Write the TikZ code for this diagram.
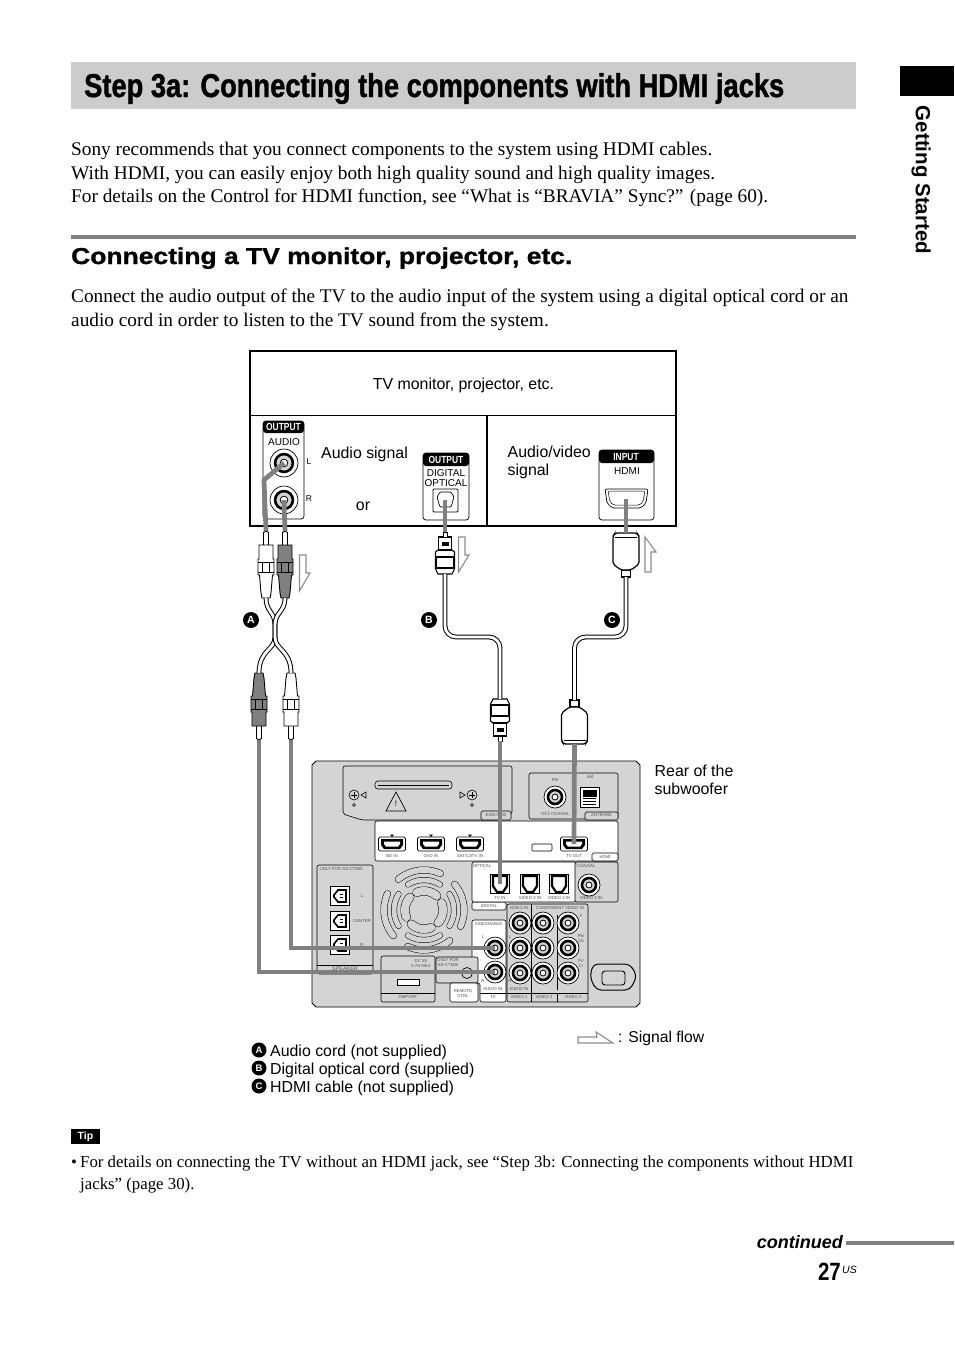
\documentclass[tikz,border=0pt]{standalone}
\usepackage{fontspec}
\setmainfont{Liberation Serif}
\setsansfont{Liberation Sans}
\newfontfamily\condfont[FakeStretch=.82]{Liberation Sans}
\newfontfamily\titlefont[FakeStretch=.827,FakeBold=1.2]{Liberation Sans}
\newfontfamily\widefont[FakeStretch=1.15,FakeBold=1.2]{Liberation Sans}
\usetikzlibrary{positioning,arrows.meta,calc}
\definecolor{band}{HTML}{CCCCCC}
\definecolor{rulegray}{HTML}{808080}
\definecolor{cable}{HTML}{808080}
\definecolor{subpanel}{HTML}{D4D4D4}
\definecolor{flow}{HTML}{8C8C8C}
\definecolor{tinyink}{HTML}{505050}
\newcommand{\fs}[1]{\fontsize{#1}{#1}\selectfont}
\newcommand{\fsl}[2]{\fontsize{#1}{#2}\selectfont}
\tikzset{
  bodytext/.style={anchor=north west,inner sep=0,align=left,font=\fsl{19.3}{23.5}\rmfamily},
  sanslabel/.style={inner sep=0,align=left,font=\fsl{15.9}{18}\sffamily},
  headlabel/.style={inner sep=0,text=white,font=\fs{10.3}\condfont\bfseries},
  panellabel/.style={inner sep=0,align=center,font=\fs{10}\sffamily},
  microtext/.style={inner sep=0,align=center,text=tinyink,font=\fsl{4.3}{5}\sffamily},
  tabbox/.style={draw,line width=.6,fill=#1,rounded corners=1.5},
  subbox/.style={draw,line width=.6,fill=subpanel,rounded corners=2},
  sigcable/.style={draw=cable,line width=4.7},
  wire/.style={draw=black,double=white,double distance=2.8,line width=1},
  flowarrow/.style={draw=flow,line width=1.1,fill=white},
  fanslot/.style={draw=black,double=subpanel,double distance=#1,line width=.5,line cap=round},
  badge/.style={circle,fill=black,text=white,inner sep=0,minimum size=#1,font=\fs{10.5}\sffamily\bfseries},
  pics/rcajack/.style={code={
    \coordinate (-c) at (0,0);
    \draw[fill=white,line width=.7] (0,0) circle[radius=11];
    \draw[line width=2.6,fill=subpanel] (0,0) circle[radius=7];
    \draw[line width=.8,fill=white] (0,0) circle[radius=3];}},
  pics/hdmiport/.style={code={
    \coordinate (-c) at (0,0);
    \draw[fill=white,rounded corners=1.5,line width=.7] (-13.5,-7) rectangle (13.5,7);
    \fill (-11,-5) -- (11,-5) -- (11,1) -- (8,5) -- (-8,5) -- (-11,1) -- cycle;
    \fill[white] (-8,-2.5) -- (8,-2.5) -- (8,0) -- (6,2.5) -- (-6,2.5) -- (-8,0) -- cycle;}},
  pics/optport/.style={code={
    \coordinate (-c) at (0,0);
    \draw[fill=white,line width=.9] (-9.5,-9.5) rectangle (9.5,9.5);
    \draw[fill=white,line width=2.2] (-7,-8) -- (7,-8) -- (7,2) -- (3,8) -- (-3,8) -- (-7,2) -- cycle;}},
  pics/speakerjack/.style={code={
    \draw[fill=white,line width=1] (-9.5,-9.5) rectangle (9.5,9.5);
    \draw[line width=1.6] (-6,-1) -- (-2,-6) -- (6,-6) -- (6,6) -- (-2,6) -- (-6,1) -- cycle;
    \draw[line width=1.2] (-.5,-1.5) -- (3,-1.5) (-.5,1.5) -- (3,1.5);}},
  pics/rcaplug/.style={code={
    \coordinate (-tip) at (0,0);
    \coordinate (-end) at (0,67);
    \draw[fill=white,line width=.9] (-2.5,14) -- (-2.5,1.5) -- (0,0) -- (2.5,1.5) -- (2.5,14);
    \draw[fill=#1,line width=.9] (-7,14) -- (7,14) -- (7,28) -- (8,28) -- (8,44) -- (6.5,44) -- (5,62) -- (4,67) -- (-4,67) -- (-5,62) -- (-6.5,44) -- (-8,44) -- (-8,28) -- (-7,28) -- cycle;
    \draw[line width=.6] (-8,31) -- (8,31) (-8,41) -- (8,41) (-3.5,31) -- (-3.5,41) (3.5,31) -- (3.5,41);}},
  pics/hdmiplug/.style={code={
    \coordinate (-end) at (0,0);
    \coordinate (-tip) at (0,44);
    \draw[fill=white,line width=1.2] (-4.5,0) -- (4.5,0) -- (4.5,7) -- (-4.5,7) -- cycle;
    \draw[fill=white,line width=1.2,rounded corners=2] (-5,7) -- (5,7) -- (13,13) -- (13,41) -- (11,44) -- (-11,44) -- (-13,41) -- (-13,13) -- cycle;
    \draw[line width=.8] (-11,40) -- (11,40);}},
  pics/optplug/.style={code={
    \coordinate (-end) at (0,0);
    \coordinate (-tip) at (0,42);
    \draw[fill=white,line width=1.1] (-7,0) -- (7,0) -- (9.5,5) -- (9.5,22) -- (7,24) -- (-7,24) -- (-9.5,22) -- (-9.5,5) -- cycle;
    \draw[line width=1.1] (-9,6) -- (9,6) -- (9,17) -- (-9,17) -- cycle;
    \draw[fill=white,line width=1.1] (-6.5,24) rectangle (6.5,37);
    \draw[fill=black] (-3,29) rectangle (3,32);
    \draw[fill=white,line width=.8] (-2,37) rectangle (2,42);}},
}
\begin{document}
\begin{tikzpicture}[x=1pt,y=-1pt]
  \useasboundingbox (0,0) rectangle (954,1352);
  % page text
  \fill[band] (71,62) rectangle (856,109);
  \node[inner sep=0,anchor=base west,font=\fs{33}\titlefont\bfseries] (title) at (84,97) {Step 3a: Connecting the components with HDMI jacks};
  \fill[black] (900,66) rectangle (954,96);
  \node[inner sep=0,rotate=-90,font=\fs{20.5}\sffamily\bfseries] (side) at (921,180) {Getting Started};
  \node[bodytext] (intro) at (71,142) {Sony recommends that you connect components to the system using HDMI cables.\\With HDMI, you can easily enjoy both high quality sound and high quality images.\\For details on the Control for HDMI function, see “What is “BRAVIA” Sync?” (page 60).};
  \fill[rulegray] (71,235) rectangle (856,239);
  \node[inner sep=0,anchor=base west,font=\fs{23}\widefont\bfseries] (head) at (71,264) {Connecting a TV monitor, projector, etc.};
  \node[bodytext,font=\fsl{19.3}{24}\rmfamily] (connect) at (71,289) {Connect the audio output of the TV to the audio input of the system using a digital optical cord or an\\audio cord in order to listen to the TV sound from the system.};

  % tv box
  \draw[line width=1.6] (250,351) rectangle (676,526);
  \draw[line width=.9] (250,415) -- (676,415);
  \draw[line width=1.4] (487,415) -- (487,526);
  \node[sanslabel] (tv) at (463.5,385) {TV monitor, projector, etc.};
  \node[sanslabel,anchor=base west] (audiosig) at (321,458) {Audio signal};
  \node[sanslabel] (or) at (363,506) {or};
  \node[sanslabel,anchor=north west] (avsig) at (507.5,446) {Audio/video\\signal};

  % output audio
  \draw[fill=white,rounded corners=3,line width=.7] (263,421) rectangle (304,519);
  \fill[black,rounded corners=3] (263,421) -- (304,421) -- (304,433) -- (263,433) -- cycle;
  \node[headlabel] (outa) at (283.5,427) {OUTPUT};
  \node[panellabel] (audio) at (284,442) {AUDIO};
  \pic[scale=1.27] (jackL) at (284,463) {rcajack};
  \pic[scale=1.27] (jackR) at (284,500) {rcajack};
  \node[panellabel,font=\fs{8.5}\sffamily] (labL) at (309,462) {L};
  \node[panellabel,font=\fs{8.5}\sffamily] (labR) at (309,499) {R};
  % output optical
  \draw[fill=white,rounded corners=3,line width=.7] (423,453) rectangle (469,520);
  \fill[black,rounded corners=3] (423,453) -- (469,453) -- (469,466) -- (423,466) -- cycle;
  \node[headlabel] (outd) at (446,459.5) {OUTPUT};
  \node[panellabel] (dig) at (446,473) {DIGITAL};
  \node[panellabel] (opt) at (446,483) {OPTICAL};
  \draw[line width=.9,rounded corners=1] (433,489) rectangle (458,512);
  \draw[line width=.7,rounded corners=1] (437,497) -- (440,492) -- (451,492) -- (454,497) -- (451,507) -- (440,507) -- cycle;
  \coordinate (jackO) at (445,500);
  % input hdmi
  \draw[fill=white,rounded corners=3,line width=.7] (599,450) rectangle (654,520);
  \fill[black,rounded corners=3] (599,450) -- (654,450) -- (654,463) -- (599,463) -- cycle;
  \node[headlabel] (inh) at (626,457) {INPUT};
  \node[panellabel] (hdmitop) at (627,471.5) {HDMI};
  \draw[line width=.7,rounded corners=2] (605,489) -- (648,489) -- (646,503) -- (641,508) -- (612,508) -- (607,503) -- cycle;
  \draw[line width=.5,rounded corners=2] (608,491) -- (645,491) -- (643,502) -- (640,505) -- (613,505) -- (610,502) -- cycle;
  \coordinate (jackH) at (626,499);

  % subwoofer
  \draw[fill=subpanel,line width=.9] (316,761) -- (636,761) -- (640,765) -- (640,1003) -- (636,1007) -- (316,1007) -- (312,1003) -- (312,765) -- cycle;
  \draw[subbox] (343,766) -- (512,766) -- (512,814) -- (500,820) -- (362,820) -- (343,814) -- cycle;
  \draw[line width=.6,rounded corners=3] (375,781) rectangle (452,789);
  \draw[line width=.5] (378,785) -- (449,785);
  \foreach \sx in {354,472} {
    \draw[line width=.6] (\sx,795) circle[radius=5];
    \draw[line width=.6] (\sx-3,795) -- (\sx+3,795) (\sx,792) -- (\sx,798);
    \draw[line width=.5] (\sx,805) circle[radius=1.5];
  }
  \draw[line width=.6] (361,795) -- (366,792) -- (366,798) -- cycle;
  \draw[line width=.6] (465,795) -- (460,792) -- (460,798) -- cycle;
  \draw[line width=.7] (396,792) -- (406,811) -- (386,811) -- cycle;
  \node[inner sep=0,font=\fs{8}\sffamily] (warn) at (396,804) {!};
  \draw[tabbox=subpanel] (481,811) rectangle (511,820);
  \node[microtext] (ezw) at (496,815.5) {EZW-T100};
  \draw[subbox] (529,773) rectangle (618,819);
  \node[microtext] (fmt) at (555,780) {FM};
  \pic (fm) at (555,797) {rcajack};
  \node[microtext] (coax75) at (555,814) {75$\Omega$ COAXIAL};
  \node[microtext] (amt) at (590,777) {AM};
  \draw[fill=white,line width=.8] (580,787) rectangle (599,807);
  \draw[fill=black] (583,790) rectangle (589,796) (590,790) rectangle (596,796);
  \draw[line width=.8] (583,798) -- (596,798) (583,801) -- (596,801) (583,804) -- (596,804);
  \draw[tabbox=subpanel] (585,812) rectangle (618,820);
  \node[microtext] (ant) at (601.5,815.5) {ANTENNA};
  % hdmi band
  \draw[fill=white,line width=.6,rounded corners=2] (375,821) rectangle (618,861);
  \foreach \hx/\hl/\hn in {392/BD IN/bd,431/DVD IN/dvd,470/{SAT/CATV IN}/sat} {
    \pic (port\hn) at (\hx,844) {hdmiport};
    \fill (\hx-2,834.5) -- (\hx+2,834.5) -- (\hx,837) -- cycle;
    \node[microtext] (lab\hn) at (\hx,856) {\hl};
  }
  \draw[fill=white,line width=.6,rounded corners=1] (532,844) rectangle (552,851);
  \pic (tvout) at (574,844) {hdmiport};
  \node[microtext] (labtvout) at (574,856) {TV OUT};
  \draw[tabbox=white] (592,853) rectangle (618,861);
  \node[microtext] (hdmitab) at (605,857) {HDMI};
  % digital
  \draw[tabbox=white] (472,902) rectangle (506,910);
  \node[microtext] (digtab) at (489,906) {DIGITAL};
  \draw[fill=white,line width=.6,rounded corners=2] (472,862) rectangle (576,902);
  \draw[subbox] (575,862) rectangle (618,902);
  \node[microtext] (optt) at (482,866.5) {OPTICAL};
  \node[microtext] (coaxt) at (586,866.5) {COAXIAL};
  \foreach \ox/\ol/\on in {500/TV IN/tvin,530/VIDEO 2 IN/vtwo,559/VIDEO 3 IN/vthree} {
    \pic (\on) at (\ox,884) {optport};
    \node[microtext] (lab\on) at (\ox,898) {\ol};
  }
  \pic (coaxin) at (589,885) {rcajack};
  \node[microtext] (labcoax) at (591,898) {VIDEO 3 IN};
  % assignable
  \draw[fill=white,line width=.6,rounded corners=2] (472,920) -- (506,920) -- (506,1002) -- (480,1002) -- (480,983) -- (472,983) -- cycle;
  \node[microtext] (assign) at (488.5,924) {ASSIGNABLE};
  \draw[line width=.5] (480,993) -- (506,993);
  \node[microtext] (assL) at (483,937) {L};
  \node[microtext] (assR) at (483,981) {R};
  \pic (tvL) at (495,948) {rcajack};
  \pic (tvR) at (495,972) {rcajack};
  \node[microtext] (assau) at (493,989) {AUDIO IN};
  \node[microtext] (asstv) at (493,997.5) {TV};
  % video block
  \draw[subbox] (507,904) rectangle (588,1002);
  \draw[line width=.7] (531,904) -- (531,1002);
  \draw[line width=.5] (557,915) -- (557,990);
  \draw[line width=.6] (507,993) -- (588,993) (557,993) -- (557,1002);
  \foreach \vx in {520,543,568} \foreach \vy in {923,948,973} {
    \pic at (\vx,\vy) {rcajack};
  }
  \node[microtext] (vidin) at (519,908) {VIDEO IN};
  \node[microtext] (compin) at (560,908) {COMPONENT VIDEO IN};
  \node[microtext] (comY) at (581,916) {Y};
  \node[microtext] (comB) at (581,938) {Pb/\\Cb};
  \node[microtext] (comR) at (581,963) {Pr/\\Cr};
  \node[microtext] (vidL) at (510,937) {L};
  \node[microtext] (vidR) at (510,981) {R};
  \node[microtext] (vidau) at (519,989) {AUDIO IN};
  \node[microtext] (vone) at (519,997.5) {VIDEO 1};
  \node[microtext] (vto) at (544,997.5) {VIDEO 2};
  \node[microtext] (vth) at (573,997.5) {VIDEO 3};
  % power
  \draw[fill=subpanel,line width=1,rounded corners=5] (593,964) -- (630,964) -- (637,976) -- (630,990) -- (596,990) -- (590,977) -- cycle;
  \draw[line width=.9,fill=subpanel,rounded corners=3] (602,971) rectangle (625,985);
  % speakers
  \draw[subbox] (317,865) rectangle (373,974);
  \node[microtext] (ctfive) at (341,869) {ONLY FOR SS-CT580};
  \foreach \spy/\spl/\spn in {896/L/spl,921/CENTER/spc,945/R/spr} {
    \pic at (340,\spy) {speakerjack};
    \node[microtext] (lab\spn) at (362,\spy) {\spl};
  }
  \draw[line width=.5] (317,965) -- (373,965);
  \node[microtext,font=\fs{5.4}\sffamily] (spk) at (345,969) {SPEAKER};
  % fan
  \foreach \fr/\fa/\fw in {40/230/6,30/238/5,19/248/8} \foreach \fb in {0,90,180,270} {
    \draw[fanslot=\fw] plot[domain=\fa+\fb:\fa+\fb+64,samples=12,smooth] ({424+\fr*cos(\x)},{910+\fr*sin(\x)});
  }
  % dmport
  \draw[subbox] (381,956) rectangle (435,1002);
  \draw[line width=.5] (381,993) -- (435,993);
  \node[microtext] (dcv) at (421,964) {DC 5V\\0.7A MAX};
  \draw[fill=white,line width=.7] (397,979) rectangle (419,985);
  \node[microtext] (dmp) at (408,997.5) {DMPORT};
  \draw[subbox] (436,957) rectangle (478,983);
  \node[microtext] (ctfivezero) at (448,963) {ONLY FOR\\SS-CT508};
  \draw[line width=.7] (467,973) circle[radius=5.5];
  \draw[tabbox=white] (450,983) rectangle (478,1002);
  \node[microtext] (rem) at (463,993.5) {REMOTE\\CTRL};

  % plugs and cords
  \pic (plugAl) at (266,531) {rcaplug=white};
  \pic (plugAr) at (285,531) {rcaplug=cable};
  \pic[yscale=-1] (plugBl) at (259,740) {rcaplug=cable};
  \pic[yscale=-1] (plugBr) at (291,740) {rcaplug=white};
  \pic[yscale=-1] (plugOt) at (445,574) {optplug};
  \pic (plugOb) at (500,699) {optplug};
  \pic[yscale=-1] (plugHt) at (626,577) {hdmiplug};
  \pic (plugHb) at (574.5,700) {hdmiplug};

  \draw[wire] (plugAl-end) .. controls (266,612) and (275,612) .. (275,625) -- (275,637) .. controls (275,650) and (259,650) .. (plugBl-end);
  \draw[wire] (plugAr-end) .. controls (285,612) and (275,612) .. (275,625) -- (275,637) .. controls (275,650) and (291,650) .. (plugBr-end);
  \draw[wire,rounded corners=11] (plugOt-end) -- (445,637) -- (500,637) -- (plugOb-end);
  \draw[wire,rounded corners=11] (plugHt-end) -- (626,637) -- (574.5,637) -- (plugHb-end);

  % signal lines
  \draw[sigcable,line join=bevel] (jackL-c) -- (264,480) -- (plugAl-tip);
  \draw[sigcable] (jackR-c) -- (plugAr-tip);
  \draw[sigcable] (jackO) -- (plugOt-tip);
  \draw[sigcable] (jackH) -- (plugHt-tip);
  \draw[sigcable] (plugBl-tip) |- (tvR-c);
  \draw[sigcable] (plugBr-tip) |- (tvL-c);
  \draw[sigcable] (plugOb-tip) -- (tvin-c);
  \draw[sigcable] (plugHb-tip) -- (tvout-c);

  % signal flow arrows
  \draw[flowarrow] (299.5,555) -- (306,555) -- (306,573) -- (310,573) -- (299.5,591) -- cycle;
  \draw[flowarrow] (458.5,537) -- (465,537) -- (465,555) -- (469,555) -- (458.5,572) -- cycle;
  \draw[flowarrow] (645,572) -- (651,572) -- (651,552) -- (656,552) -- (645,537) -- cycle;
  \node[badge=16] (A) at (251,620) {A};
  \node[badge=16] (B) at (429,620) {B};
  \node[badge=16] (C) at (612,620) {C};
  \node[sanslabel,anchor=north west] (rear) at (654.5,764.5) {Rear of the\\subwoofer};

  % legend
  \node[badge=15,font=\fs{9.5}\sffamily\bfseries] (keyA) at (259,1050) {A};
  \node[badge=15,font=\fs{9.5}\sffamily\bfseries] (keyB) at (259,1068) {B};
  \node[badge=15,font=\fs{9.5}\sffamily\bfseries] (keyC) at (259,1086) {C};
  \node[sanslabel,anchor=base west] (textA) at (270,1056) {Audio cord (not supplied)};
  \node[sanslabel,anchor=base west] (textB) at (270,1074) {Digital optical cord (supplied)};
  \node[sanslabel,anchor=base west] (textC) at (270,1092) {HDMI cable (not supplied)};
  \draw[flowarrow] (578,1037) -- (597,1037) -- (596,1032) -- (613,1043) -- (578,1043) -- cycle;
  \node[sanslabel,anchor=base west,font=\fs{15.7}\sffamily] (flowtext) at (618,1042) {: Signal flow};

  % tip
  \node[fill=black,text=white,minimum width=29,minimum height=15,inner sep=0,font=\fs{10.5}\sffamily\bfseries] (tip) at (85.5,1136.5) {Tip};
  \node[inner sep=0,anchor=base west,font=\fs{16.8}\rmfamily] (bullet) at (71,1167) {•};
  \node[inner sep=0,anchor=base west,font=\fs{16.8}\rmfamily] (tipa) at (80,1167) {For details on connecting the TV without an HDMI jack, see “Step 3b: Connecting the components without HDMI};
  \node[inner sep=0,anchor=base west,font=\fs{16.8}\rmfamily] (tipb) at (80,1189) {jacks” (page 30).};

  % footer
  \node[inner sep=0,anchor=base east,font=\fs{18}\sffamily\bfseries\itshape] (cont) at (843,1248) {continued};
  \fill[rulegray] (846,1241) rectangle (954,1245);
  \node[inner sep=0,anchor=base east,font=\fs{25}\condfont\bfseries] (page) at (841,1280) {27};
  \node[inner sep=0,anchor=base west,font=\fs{10.5}\sffamily\itshape] (us) at (842,1273) {US};
\end{tikzpicture}
\end{document}
